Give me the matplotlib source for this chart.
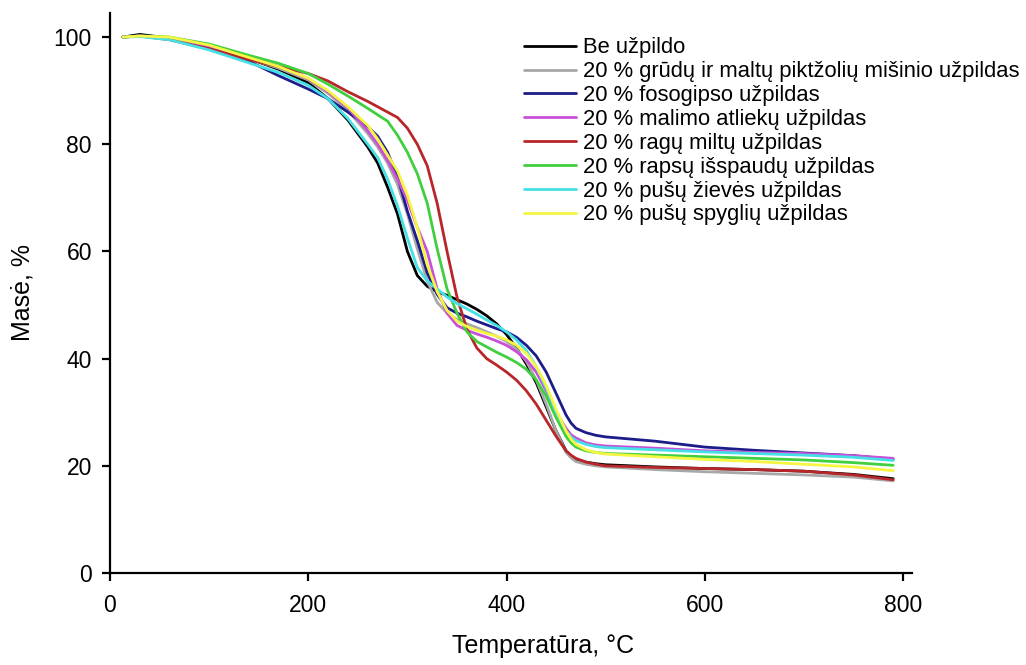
import numpy as np
import matplotlib
matplotlib.use('Agg')
import matplotlib.pyplot as plt

plt.rcParams['font.family'] = ['Liberation Sans', 'DejaVu Sans']

# temperature grid, degC
temp = [13, 30, 60, 100, 140, 170, 200, 220, 240, 260, 270, 280, 290, 300, 310,
        320, 330, 340, 350, 360, 370, 380, 390, 400, 410, 420, 430, 440, 450,
        460, 465, 470, 480, 490, 500, 550, 600, 650, 700, 750, 790]

# mass, %
be_uzpildo = [100, 100.5, 99.8, 98.3, 96, 94, 91.5, 88.5, 84.5, 79.5, 76.5, 72, 67, 60, 55.5,
              53.5, 52.5, 51.8, 51, 50.2, 49.2, 48, 46.5, 44.5, 42, 39, 35.5, 31, 26.5,
              22.8, 21.8, 21.2, 20.7, 20.4, 20.2, 19.8, 19.5, 19.3, 19, 18.4, 17.6]
grudu = [100, 100.2, 99.7, 98.2, 96, 94.2, 92, 89.5, 86.3, 82, 79.5, 76.5, 72.5, 67, 60.5,
         54.5, 50.5, 48.5, 47.3, 46.5, 45.8, 45, 44.2, 43.2, 41.8, 39.5, 36, 31.5, 26.5,
         22.5, 21.5, 20.8, 20.3, 20, 19.8, 19.3, 18.9, 18.6, 18.3, 17.9, 17.2]
fosogipso = [100, 100.3, 99.7, 98, 95.5, 92.8, 90.3, 88.5, 86, 83.3, 81.5, 78.5, 74, 67.5, 62,
             56, 52, 49.5, 48.5, 47.8, 47, 46.3, 45.6, 45, 44, 42.5, 40.5, 37.5, 33.5,
             29.5, 28, 27, 26.2, 25.7, 25.4, 24.6, 23.5, 22.9, 22.4, 21.9, 21.2]
malimo = [100, 100.2, 99.8, 98.3, 96.2, 94.5, 92.2, 89.8, 86.8, 82.5, 80, 77, 73.5, 69.5, 64.5,
          60, 53, 48.5, 46.2, 45.3, 44.6, 44, 43.3, 42.5, 41.3, 39.8, 37.5, 34, 30,
          27, 25.8, 25.2, 24.3, 23.9, 23.7, 23.3, 22.8, 22.5, 22.3, 21.9, 21.4]
ragu = [100, 100.2, 99.5, 97.8, 95.8, 94.5, 93.2, 91.8, 89.8, 88, 87, 86, 85, 83, 80,
        76, 69, 60, 51.5, 45.5, 42, 40, 38.8, 37.5, 36, 34, 31.5, 28.5, 25.5,
        22.8, 22, 21.4, 20.7, 20.3, 20, 19.7, 19.5, 19.3, 19, 18.3, 17.4]
rapsu = [100, 100.2, 100, 98.7, 96.6, 95.1, 93.2, 91.2, 89, 86.7, 85.5, 84.3, 81.7, 78.5, 74.5,
         69, 60.5, 53, 48.5, 45, 43.2, 42.2, 41.2, 40.3, 39.3, 38, 36, 33, 29,
         25.5, 24.3, 23.5, 22.8, 22.5, 22.3, 22, 21.7, 21.4, 21.1, 20.6, 20.1]
zieves = [100, 100.1, 99.5, 97.6, 95.2, 93.4, 91, 88.5, 84.8, 80, 77.5, 73.5, 68.5, 62.5, 57,
          54.5, 53, 51.5, 50.3, 49.3, 48.3, 47.2, 46.2, 45, 43.5, 41.5, 38.5, 34.5, 30,
          26.5, 25.4, 24.7, 24, 23.6, 23.4, 23, 22.6, 22.3, 22, 21.6, 21]
spygliu = [100, 100.2, 100, 98.5, 96.2, 94.5, 92.3, 90, 87, 83.5, 81, 78, 75, 70.5, 64.5,
           57.5, 52.5, 49, 47, 46, 45.3, 44.7, 44.2, 43.5, 42.5, 41, 38.5, 35, 30.5,
           26.5, 25, 24, 23, 22.5, 22.2, 21.7, 21.2, 20.8, 20.3, 19.8, 19.1]

labels = ['Be užpildo',
          '20 % grūdų ir maltų piktžolių mišinio užpildas',
          '20 % fosogipso užpildas',
          '20 % malimo atliekų užpildas',
          '20 % ragų miltų užpildas',
          '20 % rapsų išspaudų užpildas',
          '20 % pušų žievės užpildas',
          '20 % pušų spyglių užpildas']
series = [be_uzpildo, grudu, fosogipso, malimo, ragu, rapsu, zieves, spygliu]
colors = ['#000000', '#a8a8a8', '#1c1c8a', '#c94fd8', '#b8262a', '#3fcf3f', '#45dfe6', '#f5f542']

fig = plt.figure(figsize=(10.26, 6.65), dpi=100)
ax = fig.add_axes([0.1072, 0.1383, 0.7817, 0.8422])

for s, c, l in zip(series, colors, labels):
    ax.plot(temp, s, color=c, lw=2, label=l, solid_capstyle='round', solid_joinstyle='round')

ax.set_xlim(0, 809)
ax.set_ylim(0, 104.5)
ax.set_xticks([0, 200, 400, 600, 800])
ax.set_yticks([0, 20, 40, 60, 80, 100])
for sp in ['top', 'right']:
    ax.spines[sp].set_visible(False)
for sp in ['left', 'bottom']:
    ax.spines[sp].set_linewidth(1.6)
ax.tick_params(direction='out', length=6, width=1.6, labelsize=16.5)
ax.tick_params(axis='x', pad=9)
ax.tick_params(axis='y', pad=7)

ax.set_xlabel('Temperatūra, °C', fontsize=18)
ax.xaxis.set_label_coords(0.54, -0.108)
ax.set_ylabel('Masė, %', fontsize=18, labelpad=14)

leg = ax.legend(loc='upper left', bbox_to_anchor=(0.505, 0.972), frameon=False,
                fontsize=15.8, handlelength=2.4, handletextpad=0.3,
                labelspacing=0.13, borderaxespad=0)
for h in leg.get_lines():
    h.set_linewidth(2)

fig.savefig('out.png', dpi=100)
